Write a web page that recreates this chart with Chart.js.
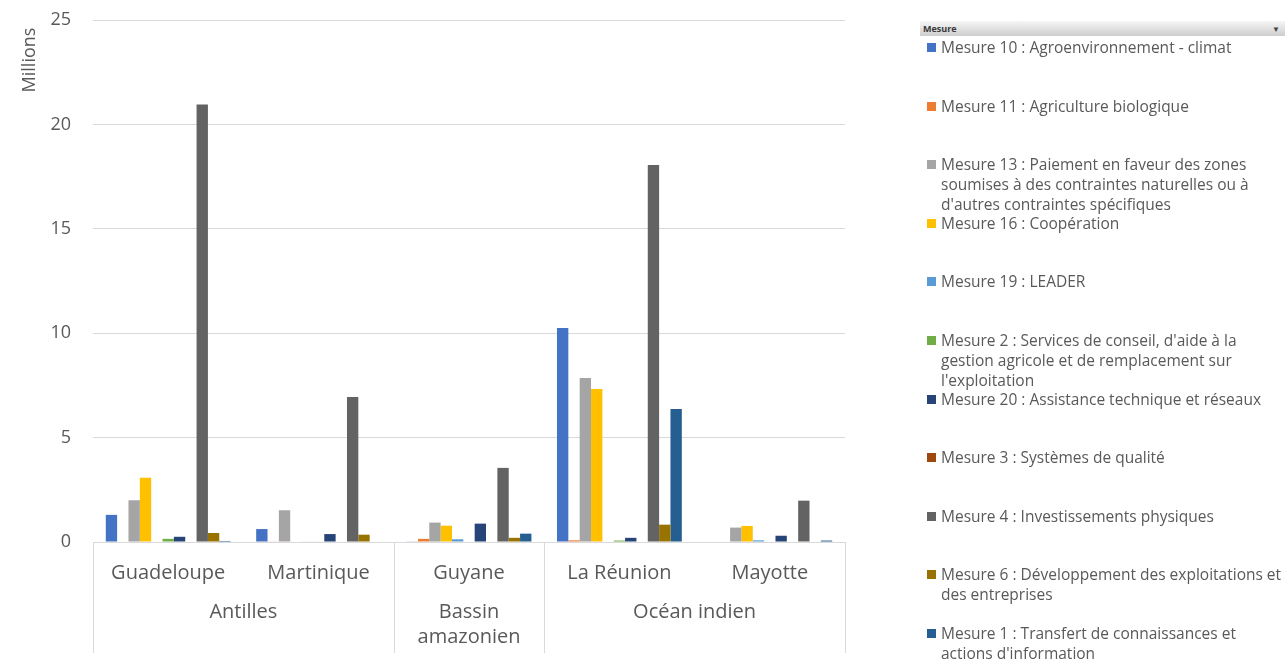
<!DOCTYPE html>
<html>
<head>
<meta charset="utf-8">
<script src="https://cdn.jsdelivr.net/npm/chart.js@4.4.0/dist/chart.umd.min.js"></script>
<style>
  body { margin: 0; background: #fff; font-family: 'Open Sans', sans-serif; }
  #wrap { position: relative; width: 1285px; height: 659px; overflow: hidden; }
  #box { position: absolute; left: 0; top: 0; width: 900px; height: 659px; }
  #legend { position: absolute; left: 0; top: 0; width: 1285px; height: 659px; pointer-events: none; }
  .hdr { position: absolute; left: 920px; top: 21px; width: 365px; height: 15px;
         background: linear-gradient(#f6f6f6, #cdcdcd); font-size: 9px; font-weight: bold;
         color: #3a3a3a; line-height: 15px; box-sizing: border-box; padding-left: 3px; }
  .hdr span { position: absolute; right: 5px; top: 0; font-size: 8px; color: #444; }
  .item { position: absolute; left: 927px; width: 358px; font-size: 15.5px; line-height: 20px; color: #595959; }
  .item i { position: absolute; left: 0; top: 6px; width: 9px; height: 9px; }
  .item div { margin-left: 14px; }
</style>
</head>
<body>
<div id="wrap">
  <div id="box"><canvas id="chart"></canvas></div>
  <div id="legend"></div>
</div>
<script>
// catégories et regroupements
const categories = ['Guadeloupe', 'Martinique', 'Guyane', 'La Réunion', 'Mayotte'];
const groupLabels = [['Antilles'], ['Bassin', 'amazonien'], ['Océan indien']];
const groupBounds = [0, 2, 3, 5];
const yTicks = [0, 5, 10, 15, 20, 25];

// mesures (ordre de la légende)
const mesures = [
    'Mesure 10 : Agroenvironnement - climat',
    'Mesure 11 : Agriculture biologique',
    'Mesure 13 : Paiement en faveur des zones soumises à des contraintes naturelles ou à d\'autres contraintes spécifiques',
    'Mesure 16 : Coopération',
    'Mesure 19 : LEADER',
    'Mesure 2 : Services de conseil, d\'aide à la gestion agricole et de remplacement sur l\'exploitation',
    'Mesure 20 : Assistance technique et réseaux',
    'Mesure 3 : Systèmes de qualité',
    'Mesure 4 : Investissements physiques',
    'Mesure 6 : Développement des exploitations et des entreprises',
    'Mesure 1 : Transfert de connaissances et actions d\'information'
];

// valeurs en millions
const m10 = [1.3, 0.62, 0.03, 10.25, 0];
const m11 = [0, 0.03, 0.15, 0.08, 0];
const m13 = [2.0, 1.52, 0.93, 7.85, 0.69];
const m16 = [3.08, 0, 0.78, 7.33, 0.77];
const m19 = [0, 0.02, 0.13, 0, 0.08];
const m2 = [0.15, 0.02, 0, 0.07, 0];
const m20 = [0.25, 0.38, 0.88, 0.2, 0.3];
const m3 = [0, 0, 0, 0, 0];
const m4 = [20.95, 6.95, 3.55, 18.05, 1.98];
const m6 = [0.43, 0.35, 0.2, 0.83, 0];
const m1 = [0.05, 0, 0.4, 6.37, 0.07];

const series = [m10, m11, m13, m16, m19, m2, m20, m3, m4, m6, m1];
const colors = ['#4472C4', '#ED7D31', '#A5A5A5', '#FFC000', '#5B9BD5', '#70AD47',
                '#264478', '#9E480E', '#636363', '#997300', '#255E91'];

const textColor = '#595959';
const lineColor = '#d9d9d9';

// regroupements de l'axe X, titre "Millions"
const groupPlugin = {
    id: 'groupAxis',
    afterDraw(chart) {
        const { ctx, chartArea } = chart;
        const x = chart.scales.x;
        ctx.save();
        ctx.strokeStyle = lineColor;
        ctx.lineWidth = 1;
        groupBounds.forEach(b => {
            const px = Math.round(x.getPixelForValue(b - 0.5)) + 0.5;
            ctx.beginPath();
            ctx.moveTo(px, chartArea.bottom);
            ctx.lineTo(px, chart.height - 6);
            ctx.stroke();
        });
        ctx.fillStyle = textColor;
        ctx.font = '20px "Open Sans"';
        ctx.textAlign = 'center';
        ctx.textBaseline = 'middle';
        groupLabels.forEach((lines, i) => {
            const a = x.getPixelForValue(groupBounds[i] - 0.5);
            const b = x.getPixelForValue(groupBounds[i + 1] - 0.5);
            lines.forEach((t, j) => ctx.fillText(t, (a + b) / 2, 612 + j * 25));
        });
        ctx.translate(30, 60);
        ctx.rotate(-Math.PI / 2);
        ctx.font = '18px "Open Sans"';
        ctx.fillText('Millions', 0, 0);
        ctx.restore();
    }
};

function initChart() {
    const ctx = document.getElementById('chart').getContext('2d');
    return new Chart(ctx, {
        type: 'bar',
        data: {
            labels: categories,
            datasets: series.map((s, i) => ({
                label: mesures[i],
                data: s,
                backgroundColor: colors[i],
                borderWidth: 0,
                categoryPercentage: 0.83,
                barPercentage: 1
            }))
        },
        options: {
            responsive: true,
            maintainAspectRatio: false,
            animation: false,
            layout: { padding: { top: 20, right: 55, left: 0, bottom: 0 } },
            plugins: {
                legend: { display: false },
                tooltip: { enabled: false }
            },
            scales: {
                y: {
                    min: 0,
                    max: 25,
                    afterFit(scale) {
                        scale.width = 93;
                        scale.paddingTop = 0;
                        scale.paddingBottom = 0;
                    },
                    afterBuildTicks(scale) { scale.ticks = yTicks.map(v => ({ value: v })); },
                    grid: { color: lineColor, drawTicks: false },
                    border: { display: false },
                    ticks: {
                        padding: 22,
                        color: textColor,
                        font: { family: 'Open Sans', size: 18 }
                    }
                },
                x: {
                    afterFit(scale) { scale.height = 117; },
                    grid: { display: false },
                    border: { display: false },
                    ticks: {
                        padding: 11,
                        maxRotation: 0,
                        color: textColor,
                        font: { family: 'Open Sans', size: 20 }
                    }
                }
            }
        },
        plugins: [groupPlugin]
    });
}

// légende HTML à partir des jeux de données
function buildLegend(chart) {
    const box = document.getElementById('legend');
    let html = '<div class="hdr">Mesure<span>&#9660;</span></div>';
    chart.data.datasets.forEach((ds, i) => {
        const top = 37 + i * 58.6;
        html += '<div class="item" style="top:' + top + 'px"><i style="background:' + ds.backgroundColor +
                '"></i><div>' + ds.label + '</div></div>';
    });
    box.innerHTML = html;
}

const chart = initChart();
buildLegend(chart);
</script>
</body>
</html>
